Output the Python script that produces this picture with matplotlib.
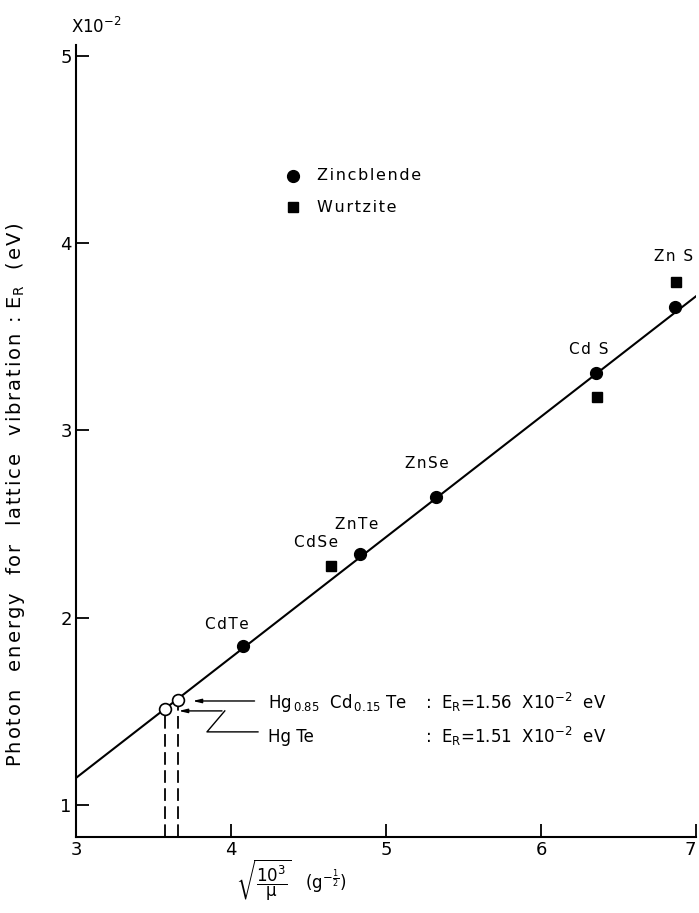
import matplotlib
matplotlib.use("Agg")
import matplotlib.pyplot as plt

plt.rcParams['font.family'] = ['DejaVu Sans']
plt.rcParams['mathtext.default'] = 'regular'

# zincblende compounds (filled circles)
zb_names = ["CdTe", "ZnTe", "ZnSe", "CdS", "ZnS"]
zb_x = [4.08, 4.83, 5.32, 6.355, 6.865]
zb_y = [1.85, 2.34, 2.645, 3.305, 3.66]

# wurtzite compounds (filled squares)
wz_names = ["CdSe", "CdS", "ZnS"]
wz_x = [4.645, 6.36, 6.87]
wz_y = [2.275, 3.18, 3.79]

# HgTe and Hg0.85Cd0.15Te (open circles)
alloy_x = [3.575, 3.66]
alloy_y = [1.51, 1.56]

# straight line through the data
fit_x = [3.0, 7.0]
fit_y = [1.144, 3.716]

x_ticks = [3, 4, 5, 6, 7]
y_ticks = [1, 2, 3, 4, 5]


def spaced(s, n=1):
    # widen lettering a little with hair spaces
    return ("\u200a" * n).join(s)


fig = plt.figure(figsize=(6.99, 9.13), dpi=100)
ax = fig.add_axes([0.1087, 0.0835, 0.8870, 0.8677])

ax.plot(fit_x, fit_y, color="black", lw=1.5, zorder=2)
ax.plot(zb_x, zb_y, "o", color="black", ms=8.5, zorder=3)
ax.plot(wz_x, wz_y, "s", color="black", ms=7.5, zorder=3)
ax.plot(alloy_x, alloy_y, "o", mfc="white", mec="black", mew=1.2, ms=8.5, zorder=4)

# dashed drops from the open circles to the axis
for xv, yv in zip(alloy_x, alloy_y):
    ax.plot([xv, xv], [0.83, yv - 0.035], color="black", lw=1.3,
            dashes=(7, 3), zorder=2)

# compound labels above the points (offsets in points)
zb_offsets = {"CdTe": (-12, 15), "ZnTe": (-2, 21), "ZnSe": (-6, 24), "CdS": (-5, 17)}
for name, xv, yv in zip(zb_names, zb_x, zb_y):
    if name in zb_offsets:
        label = "Cd S" if name == "CdS" else name
        ax.annotate(spaced(label), (xv, yv), xytext=zb_offsets[name],
                    textcoords="offset points", ha="center", va="center", fontsize=11)
wz_offsets = {"CdSe": (-11, 17), "ZnS": (-2, 19)}
for name, xv, yv in zip(wz_names, wz_x, wz_y):
    if name in wz_offsets:
        label = "Zn S" if name == "ZnS" else name
        ax.annotate(spaced(label), (xv, yv), xytext=wz_offsets[name],
                    textcoords="offset points", ha="center", va="center", fontsize=11)

# legend drawn by hand
ax.plot([4.40], [4.36], "o", color="black", ms=8.5)
ax.plot([4.40], [4.19], "s", color="black", ms=7.5)
ax.text(4.555, 4.36, spaced("Zincblende"), va="center", ha="left", fontsize=11.5)
ax.text(4.555, 4.19, spaced("Wurtzite"), va="center", ha="left", fontsize=11.5)

# leader lines for the two open circles
ax.annotate("", xy=(3.735, 1.555), xytext=(4.17, 1.555),
            arrowprops=dict(arrowstyle="-|>,head_length=0.5,head_width=0.12",
                            color="black", lw=1.0))
ax.plot([4.174, 3.845, 3.96], [1.39, 1.39, 1.502], color="black", lw=1.0)
ax.annotate("", xy=(3.645, 1.502), xytext=(3.96, 1.502),
            arrowprops=dict(arrowstyle="-|>,head_length=0.5,head_width=0.12",
                            color="black", lw=1.0))

ax.text(4.24, 1.545, r"Hg$_{\,0.85}$  Cd$_{\,0.15}$ Te", va="center", ha="left", fontsize=12)
ax.text(4.24, 1.365, "Hg Te", va="center", ha="left", fontsize=12)
ax.text(5.25, 1.545, r":  E$_R$=1.56  X10$^{-2}$  eV", va="center", ha="left", fontsize=12)
ax.text(5.25, 1.365, r":  E$_R$=1.51  X10$^{-2}$  eV", va="center", ha="left", fontsize=12)

ax.set_xlim(3, 7)
ax.set_ylim(0.83, 5.06)
ax.set_xticks(x_ticks)
ax.set_yticks(y_ticks)
ax.set_xticklabels([str(v) for v in x_ticks])
ax.set_yticklabels([str(v) for v in y_ticks])
ax.get_xticklabels()[-1].set_horizontalalignment("right")
ax.tick_params(direction="in", length=9.5, width=1.3, labelsize=13, pad=3)
ax.spines["top"].set_visible(False)
ax.spines["right"].set_visible(False)
ax.spines["left"].set_linewidth(1.5)
ax.spines["bottom"].set_linewidth(1.5)

fig.text(71 / 699, 1 - 27 / 913, r"X10$^{-2}$", fontsize=12, va="center", ha="left")
fig.text(16 / 699, 1 - 495 / 913,
         spaced("Photon  energy  for  lattice  vibration : ") + r"E$_R$"
         + spaced("  (eV)"),
         rotation=90, va="center", ha="center", fontsize=14)
fig.text(291 / 699, 1 - 880 / 913,
         r"$\sqrt{\dfrac{10^3}{\mu}}$   (g$^{-\frac{1}{2}}$)",
         va="center", ha="center", fontsize=12)

fig.savefig("out.png", dpi=100)
